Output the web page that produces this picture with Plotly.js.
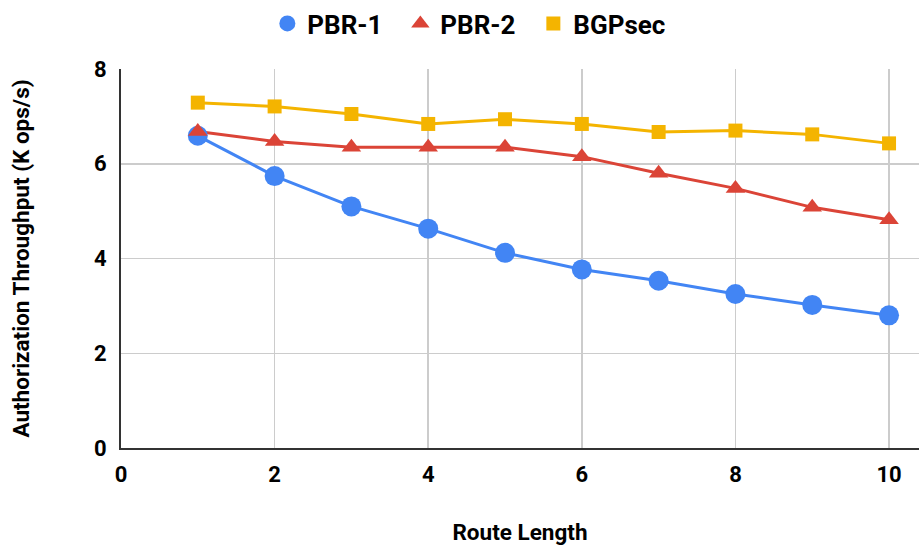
<!DOCTYPE html>
<html><head><meta charset="utf-8">
<script src="https://cdn.plot.ly/plotly-3.0.1.min.js"></script>
<style>html,body{margin:0;padding:0;background:#fff}</style>
</head><body>
<div id="chart" style="width:919px;height:547px"></div>
<script>
var routeLength = [1,2,3,4,5,6,7,8,9,10];
var pbr1 = [6.59,5.74,5.10,4.63,4.12,3.77,3.53,3.25,3.02,2.80];
var pbr2 = [6.68,6.47,6.35,6.35,6.35,6.15,5.80,5.48,5.08,4.82];
var bgpsec = [7.29,7.21,7.05,6.84,6.94,6.84,6.67,6.70,6.62,6.43];
var xTicks = [0,2,4,6,8,10];
var yTicks = [0,2,4,6,8];

var font = 'Roboto, "Open Sans", sans-serif';
var series = [
  {name: 'PBR-1', y: pbr1, color: '#4285F4', symbol: 'circle', size: 20},
  {name: 'PBR-2', y: pbr2, color: '#DB4437', symbol: 'triangle-up', size: 17},
  {name: 'BGPsec', y: bgpsec, color: '#F4B400', symbol: 'square', size: 14}
];
var traces = [];
series.forEach(function(s){
  traces.push({x: routeLength, y: s.y, name: s.name, mode: 'lines', type: 'scatter',
    showlegend: false, line: {color: s.color, width: 3}});
});
series.forEach(function(s){
  traces.push({x: routeLength, y: s.y, name: s.name, mode: 'markers', type: 'scatter',
    marker: {symbol: s.symbol, size: s.size, color: s.color}});
});
var layout = {
  width: 919, height: 547,
  margin: {l: 121, r: 0, t: 69, b: 99},
  paper_bgcolor: '#fff', plot_bgcolor: '#fff',
  font: {family: font, color: '#000'},
  showlegend: true,
  legend: {orientation: 'h', xref: 'container', yref: 'container', x: 0.508, xanchor: 'center', y: 1, yanchor: 'top',
           font: {size: 26, family: font, weight: 'bold'}, itemsizing: 'trace', entrywidth: 88},
  xaxis: {range: [0, 10.39], tickvals: xTicks, ticktext: xTicks.map(String),
          showgrid: true, gridcolor: '#cccccc', gridwidth: 1.5, zeroline: false,
          showline: true, linecolor: '#333', linewidth: 2,
          tickfont: {size: 22, family: font, weight: 'bold'}, ticks: '', ticklen: 0, ticklabelstandoff: 6,
          title: {text: 'Route Length', font: {size: 22.5, family: font, weight: 'bold'}, standoff: 38}},
  yaxis: {range: [0, 8], tickvals: yTicks, ticktext: yTicks.map(String),
          showgrid: true, gridcolor: '#cccccc', gridwidth: 1.5, zeroline: false,
          showline: true, linecolor: '#333', linewidth: 2,
          tickfont: {size: 22, family: font, weight: 'bold'}, ticks: '', ticklen: 0, ticklabelstandoff: 8,
          title: {text: 'Authorization Throughput (K ops/s)', font: {size: 22.5, family: font, weight: 'bold'}, standoff: 58}}
};
Plotly.newPlot('chart', traces, layout, {displayModeBar: false, staticPlot: true});
</script>
</body></html>
